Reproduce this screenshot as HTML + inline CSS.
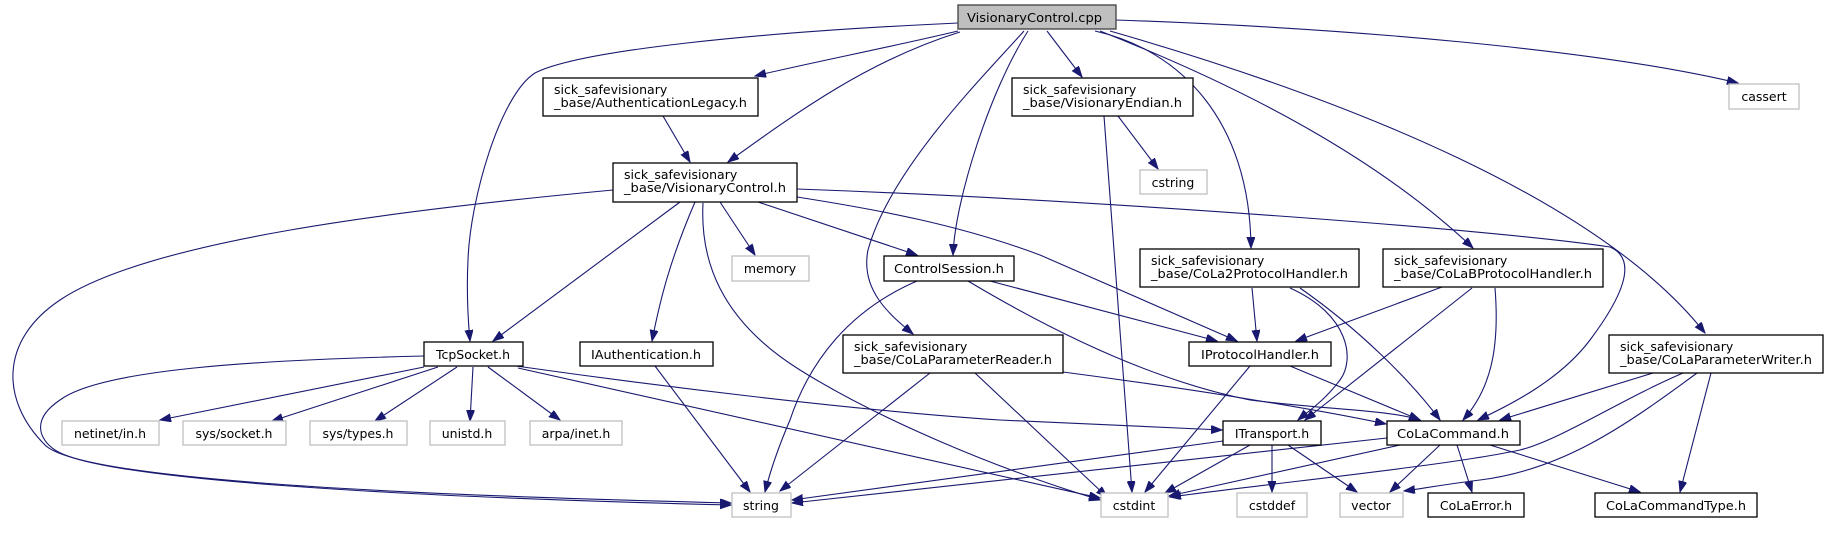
<!DOCTYPE html>
<html><head><meta charset="utf-8"><style>
html,body{margin:0;padding:0;background:#fff;}
svg{display:block;}
text{font-family:"DejaVu Sans","Liberation Sans",sans-serif;font-size:12.5px;fill:#000;}
.e{fill:none;stroke:#191970;stroke-width:1.1;marker-end:url(#a);}
.n{fill:#fff;stroke:#000;stroke-width:1.3;}
.g{fill:#fff;stroke:#bfbfbf;stroke-width:1.3;}
</style></head><body>
<svg width="1829" height="544" viewBox="0 0 1829 544" xmlns="http://www.w3.org/2000/svg">
<defs><marker id="a" markerUnits="userSpaceOnUse" markerWidth="12" markerHeight="9" refX="11" refY="4" orient="auto"><path d="M0,0 L11,4 L0,8 z" fill="#191970" stroke="#191970"/></marker></defs>

<!-- edges -->
<path class="e" d="M958,31 C900,45 800,65 755,76"/>
<path class="e" d="M960,32 C870,60 800,110 728,162"/>
<path class="e" d="M958,23 C760,32 580,50 535,73 C500,95 470,200 468,260 C466,300 469,330 470,341"/>
<path class="e" d="M1028,31 C990,90 955,200 953,255"/>
<path class="e" d="M1024,31 C980,80 890,170 868,250 C860,290 890,315 913,334"/>
<path class="e" d="M1047,31 L1082,77"/>
<path class="e" d="M1095,31 C1180,50 1250,120 1251,248"/>
<path class="e" d="M1100,31 C1250,90 1380,160 1473,248"/>
<path class="e" d="M1110,31 C1350,100 1600,200 1705,333"/>
<path class="e" d="M1116,20 C1350,28 1600,50 1738,83"/>
<path class="e" d="M663,116 L690,162"/>
<path class="e" d="M680,202 L493,341"/>
<path class="e" d="M695,202 C670,260 660,300 652,341"/>
<path class="e" d="M720,202 L755,255"/>
<path class="e" d="M758,202 L917,255"/>
<path class="e" d="M703,203 C700,260 720,320 800,370 C880,420 1000,470 1100,500"/>
<path class="e" d="M613,190 C400,210 150,240 60,300 C0,340 0,400 45,445 C80,480 400,495 731,503"/>
<path class="e" d="M797,197 C880,210 960,225 1040,255 C1120,290 1190,320 1237,341"/>
<path class="e" d="M797,189 C1100,200 1500,230 1610,247 C1640,260 1620,300 1590,340 C1560,380 1510,405 1478,420"/>
<path class="e" d="M1118,116 L1158,169"/>
<path class="e" d="M1104,116 L1132,492"/>
<path class="e" d="M917,281 C850,310 810,360 790,420 C775,455 768,480 765,492"/>
<path class="e" d="M990,281 L1217,341"/>
<path class="e" d="M968,281 C1050,330 1150,380 1250,400 C1330,410 1390,410 1420,420"/>
<path class="e" d="M930,373 L780,491"/>
<path class="e" d="M975,373 L1107,497"/>
<path class="e" d="M1063,372 C1200,390 1320,410 1386,424"/>
<path class="e" d="M424,367 L160,420"/>
<path class="e" d="M438,367 L272,421"/>
<path class="e" d="M457,367 L375,421"/>
<path class="e" d="M473,367 L470,421"/>
<path class="e" d="M488,367 L560,420"/>
<path class="e" d="M516,366 C650,385 850,410 1000,420 C1100,425 1180,428 1222,430"/>
<path class="e" d="M518,368 C700,410 900,455 1100,498"/>
<path class="e" d="M424,356 C250,360 100,370 60,400 C30,420 40,440 55,450 C100,480 400,497 731,505"/>
<path class="e" d="M655,366 L750,492"/>
<path class="e" d="M1250,366 L1145,492"/>
<path class="e" d="M1290,366 L1420,420"/>
<path class="e" d="M1252,288 L1257,341"/>
<path class="e" d="M1290,288 C1350,315 1355,360 1340,380 C1325,400 1310,410 1298,420"/>
<path class="e" d="M1300,288 C1360,330 1410,380 1440,420"/>
<path class="e" d="M1442,287 L1296,341"/>
<path class="e" d="M1472,288 L1305,420"/>
<path class="e" d="M1495,288 C1500,350 1490,390 1463,420"/>
<path class="e" d="M1653,373 L1500,420"/>
<path class="e" d="M1683,373 C1620,400 1560,440 1520,450 C1450,465 1300,480 1170,497"/>
<path class="e" d="M1697,373 C1620,430 1560,470 1480,480 C1440,485 1420,489 1404,491"/>
<path class="e" d="M1711,373 L1680,492"/>
<path class="e" d="M1223,441 L792,500"/>
<path class="e" d="M1250,445 L1165,493"/>
<path class="e" d="M1272,445 L1272,492"/>
<path class="e" d="M1288,445 L1357,492"/>
<path class="e" d="M1387,438 L792,503"/>
<path class="e" d="M1400,445 L1169,496"/>
<path class="e" d="M1440,445 L1390,492"/>
<path class="e" d="M1457,445 L1472,492"/>
<path class="e" d="M1490,445 L1640,492"/>

<!-- nodes -->
<rect x="958" y="5" width="158" height="24" fill="#bfbfbf" stroke="#404040" stroke-width="1.3"/>
<text x="967" y="22" textLength="135" lengthAdjust="spacingAndGlyphs">VisionaryControl.cpp</text>

<rect class="n" x="543" y="78" width="215" height="38"/>
<text x="554" y="94">sick_safevisionary</text><text x="554" y="107" textLength="193" lengthAdjust="spacingAndGlyphs">_base/AuthenticationLegacy.h</text>

<rect class="n" x="1012" y="78" width="181" height="38"/>
<text x="1023" y="94">sick_safevisionary</text><text x="1023" y="107" textLength="159" lengthAdjust="spacingAndGlyphs">_base/VisionaryEndian.h</text>

<rect class="g" x="1729" y="84" width="70" height="25"/>
<text x="1764" y="101" text-anchor="middle">cassert</text>

<rect class="n" x="613" y="163" width="184" height="39"/>
<text x="624" y="179">sick_safevisionary</text><text x="624" y="192" textLength="162" lengthAdjust="spacingAndGlyphs">_base/VisionaryControl.h</text>

<rect class="g" x="1140" y="170" width="67" height="24"/>
<text x="1173" y="187" text-anchor="middle">cstring</text>

<rect class="n" x="1140" y="249" width="219" height="38"/>
<text x="1151" y="265">sick_safevisionary</text><text x="1151" y="278" textLength="197" lengthAdjust="spacingAndGlyphs">_base/CoLa2ProtocolHandler.h</text>

<rect class="n" x="1383" y="249" width="220" height="38"/>
<text x="1394" y="265">sick_safevisionary</text><text x="1394" y="278" textLength="198" lengthAdjust="spacingAndGlyphs">_base/CoLaBProtocolHandler.h</text>

<rect class="g" x="732" y="256" width="77" height="25"/>
<text x="770" y="273" text-anchor="middle">memory</text>

<rect class="n" x="884" y="256" width="130" height="25"/>
<text x="949" y="273" text-anchor="middle" textLength="110" lengthAdjust="spacingAndGlyphs">ControlSession.h</text>

<rect class="n" x="843" y="335" width="220" height="38"/>
<text x="854" y="351">sick_safevisionary</text><text x="854" y="364" textLength="198" lengthAdjust="spacingAndGlyphs">_base/CoLaParameterReader.h</text>

<rect class="n" x="1609" y="335" width="214" height="38"/>
<text x="1620" y="351">sick_safevisionary</text><text x="1620" y="364" textLength="192" lengthAdjust="spacingAndGlyphs">_base/CoLaParameterWriter.h</text>

<rect class="n" x="424" y="342" width="99" height="24"/>
<text x="473" y="359" text-anchor="middle">TcpSocket.h</text>

<rect class="n" x="580" y="342" width="133" height="24"/>
<text x="646" y="359" text-anchor="middle" textLength="110" lengthAdjust="spacingAndGlyphs">IAuthentication.h</text>

<rect class="n" x="1189" y="342" width="142" height="24"/>
<text x="1260" y="359" text-anchor="middle" textLength="118" lengthAdjust="spacingAndGlyphs">IProtocolHandler.h</text>

<rect class="g" x="62" y="421" width="97" height="24"/>
<text x="110" y="438" text-anchor="middle">netinet/in.h</text>
<rect class="g" x="183" y="421" width="103" height="24"/>
<text x="234" y="438" text-anchor="middle">sys/socket.h</text>
<rect class="g" x="310" y="421" width="97" height="24"/>
<text x="358" y="438" text-anchor="middle">sys/types.h</text>
<rect class="g" x="430" y="421" width="75" height="24"/>
<text x="467" y="438" text-anchor="middle">unistd.h</text>
<rect class="g" x="530" y="421" width="92" height="24"/>
<text x="576" y="438" text-anchor="middle">arpa/inet.h</text>

<rect class="n" x="1223" y="421" width="98" height="24"/>
<text x="1272" y="438" text-anchor="middle">ITransport.h</text>

<rect class="n" x="1387" y="421" width="133" height="24"/>
<text x="1453" y="438" text-anchor="middle" textLength="112" lengthAdjust="spacingAndGlyphs">CoLaCommand.h</text>

<rect class="g" x="732" y="493" width="59" height="24"/>
<text x="761" y="510" text-anchor="middle">string</text>
<rect class="g" x="1101" y="493" width="67" height="24"/>
<text x="1134" y="510" text-anchor="middle">cstdint</text>
<rect class="g" x="1237" y="493" width="70" height="24"/>
<text x="1272" y="510" text-anchor="middle">cstddef</text>
<rect class="g" x="1340" y="493" width="63" height="24"/>
<text x="1371" y="510" text-anchor="middle">vector</text>
<rect class="n" x="1428" y="493" width="96" height="24"/>
<text x="1476" y="510" text-anchor="middle">CoLaError.h</text>
<rect class="n" x="1595" y="493" width="162" height="24"/>
<text x="1676" y="510" text-anchor="middle" textLength="140" lengthAdjust="spacingAndGlyphs">CoLaCommandType.h</text>
</svg>
</body></html>
